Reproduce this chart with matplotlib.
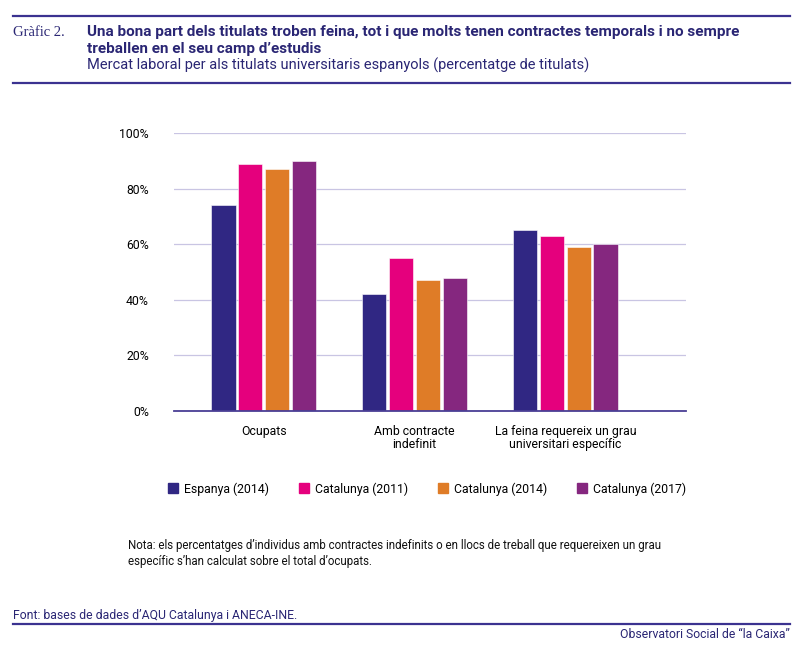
"""
Grafic 2: mercat laboral dels titulats universitaris (barres agrupades).
"""

import matplotlib
matplotlib.use("Agg")
import matplotlib.pyplot as plt
from matplotlib.lines import Line2D
import numpy as np

categories = ["Ocupats", "Amb contracte\nindefinit",
	"La feina requereix un grau\nuniversitari específic"]
series = ["Espanya (2014)", "Catalunya (2011)", "Catalunya (2014)",
	"Catalunya (2017)"]
espanya_2014 = [74, 42, 65]
catalunya_2011 = [89, 55, 63]
catalunya_2014 = [87, 47, 59]
catalunya_2017 = [90, 48, 60]
yticks = [0, 20, 40, 60, 80, 100]

colors = ["#302783", "#e5007d", "#df7c27", "#85277f"]
navy = "#2a2674"
plt.rcParams["font.family"] = ["Roboto", "DejaVu Sans"]


def draw_bars(ax):
	values = [espanya_2014, catalunya_2011, catalunya_2014, catalunya_2017]
	x = np.arange(len(categories))
	pitch = 0.1775
	width = 0.16
	for j in range(len(series)):
		ax.bar(x + (j - 1.5) * pitch, values[j], width, color = colors[j],
			edgecolor = "white", linewidth = 0.4, zorder = 3)
	ax.set_xticks(x)
	ax.set_xticklabels(categories, fontsize = 8.8, linespacing = 1.05)
	ax.set_xlim(-0.594, 2.8)
	ax.set_ylim(0, 100)
	ax.set_yticks(yticks)
	ax.set_yticklabels(["%d%%" % i for i in yticks], fontsize = 8.8)
	ax.tick_params(length = 0, pad = 18, axis = "y")
	ax.tick_params(length = 0, pad = 10, axis = "x")
	ax.grid(axis = "y", color = "#c9c5e3", linewidth = 0.9, zorder = 0)
	for s in ["top", "right", "left"]:
		ax.spines[s].set_visible(False)
	ax.spines["bottom"].set_color("#4a3f95")
	ax.spines["bottom"].set_linewidth(1.3)
	ax.spines["bottom"].set_zorder(4)


def legend(fig):
	handles = [Line2D([], [], marker = "s", linestyle = "", markersize = 7.5,
		color = c) for c in colors]
	fig.legend(handles, series, loc = "center", ncol = 4, frameon = False,
		bbox_to_anchor = (0.534, 0.248), fontsize = 8.8, handlelength = 0.8,
		handletextpad = 0.5, columnspacing = 2.45)


def header_footer(fig):
	for y in [1 - 16 / 650., 1 - 83 / 650., 1 - 624 / 650.]:
		fig.add_artist(Line2D([13 / 800., 790 / 800.], [y, y],
			color = "#3b3290", linewidth = 1.6))
	fig.text(13 / 800., 1 - 32 / 650., "Gràfic 2.", family = "Liberation Serif",
		fontsize = 10.5, color = navy, va = "center")
	fig.text(87 / 800., 1 - 40.5 / 650., "Una bona part dels titulats troben "
		"feina, tot i que molts tenen contractes temporals i no sempre\n"
		"treballen en el seu camp d\u2019estudis", fontsize = 11,
		fontweight = "bold", color = navy, va = "center", linespacing = 1.25)
	fig.text(87 / 800., 1 - 65 / 650., "Mercat laboral per als titulats "
		"universitaris espanyols (percentatge de titulats)", fontsize = 10.5,
		color = navy, va = "center")
	fig.text(128 / 800., 1 - 553.5 / 650., "Nota: els percentatges "
		"d\u2019individus amb contractes indefinits o en llocs de treball "
		"que requereixen un grau\nespecífic s\u2019han calculat sobre el "
		"total d\u2019ocupats.", fontsize = 8.3, color = "#111111",
		va = "center", linespacing = 1.35)
	fig.text(13 / 800., 1 - 616 / 650., "Font: bases de dades d\u2019AQU "
		"Catalunya i ANECA-INE.", fontsize = 8.8, color = navy, va = "center")
	fig.text(790 / 800., 1 - 634 / 650., "Observatori Social de \u201cla Caixa\u201d",
		fontsize = 8.8, color = navy, va = "center", ha = "right")


if __name__ == "__main__":
	fig = plt.figure(figsize = (8, 6.5), dpi = 100)
	ax = fig.add_axes([174 / 800., 1 - 411 / 650., 512 / 800., 278 / 650.])
	draw_bars(ax)
	legend(fig)
	header_footer(fig)
	plt.savefig("out.png", dpi = 100, facecolor = "white")
	plt.clf()
